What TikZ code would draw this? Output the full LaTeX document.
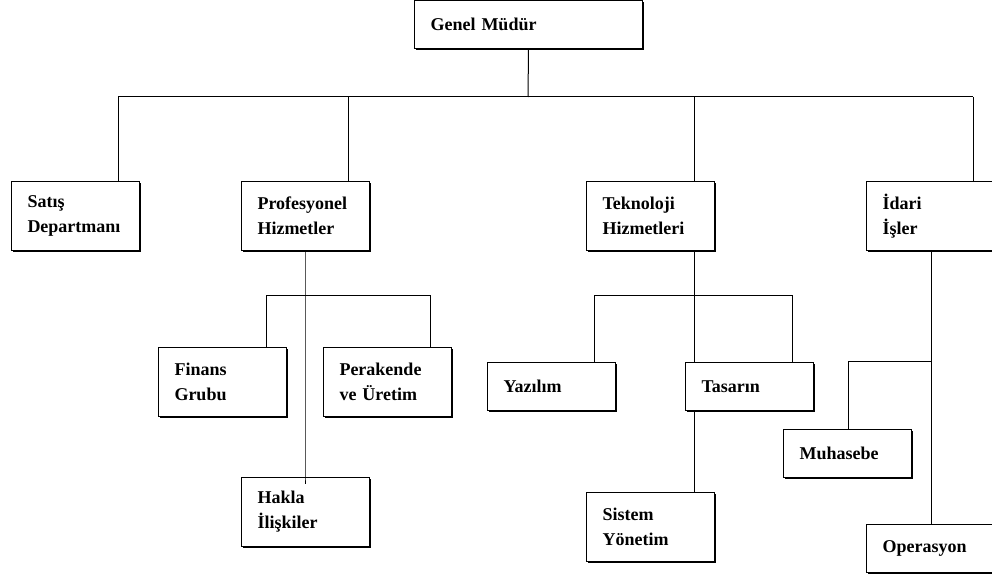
\documentclass[tikz,border=0pt]{standalone}
\usepackage{fontspec}
\setmainfont{Liberation Serif}
\usetikzlibrary{shadows}

\begin{document}
\begin{tikzpicture}[x=1pt, y=-1pt,
    orgbox/.style={draw, fill=white, line width=1pt, anchor=north west,
        inner xsep=16pt, inner ysep=0pt, align=left, text width=96pt,
        minimum height=69pt, font=\bfseries\fontsize{18}{25}\selectfont,
        drop shadow={shadow xshift=1.6pt, shadow yshift=-1.6pt, fill=black, opacity=1}},
    link/.style={line width=1pt}]
\useasboundingbox (0,0) rectangle (992,577);
% boxes
\node[orgbox, minimum height=48pt, text width=196pt] (gm) at (414,0) {Genel Müdür};
\foreach \nm/\x/\y/\lbl in {
    satis/11/181/{Satış\\Departmanı}, prof/241/181/{Profesyonel\\Hizmetler},
    tekno/586/181/{Teknoloji\\Hizmetleri}, idari/866/181/{İdari\\İşler},
    finans/158/347/{Finans\\Grubu}, perak/323/347/{Perakende\\ve Üretim},
    hakla/241/477/{Hakla\\İlişkiler}, sistem/586/492/{Sistem\\Yönetim}
}{
    \node[orgbox] (\nm) at (\x,\y) {\lbl};
}
\foreach \nm/\x/\y/\lbl in {
    yazilim/487/362/Yazılım, tasarin/685/362/Tasarın,
    muhasebe/783/429/Muhasebe, operasyon/866/524/Operasyon
}{
    \node[orgbox, minimum height=48pt] (\nm) at (\x,\y) {\lbl};
}
% top level
\coordinate (bus) at (528,97);
\draw[link] (gm.south) -- (bus);
\foreach \nm/\x in {satis/118, prof/348, tekno/694, idari/973}{
    \coordinate (d\nm) at (\x,97);
    \draw[link] (d\nm) -- (d\nm |- \nm.north);
}
\draw[link] (dsatis) -- (didari);
% profesyonel
\coordinate (pj) at (305,295);
\coordinate (fj) at (266,295);
\coordinate (rj) at (430,295);
\draw[link] (pj |- prof.south) -- (pj |- hakla.north) -- ++(0,7);
\draw[link] (fj |- finans.north) -- (fj) -- (rj) -- (rj |- perak.north);
% teknoloji
\coordinate (tj) at (694,295);
\coordinate (yj) at (594,295);
\coordinate (sj) at (792,295);
\draw[link] (tj |- tekno.south) -- (tj |- tasarin.north);
\draw[link] (tj |- tasarin.south) -- (tj |- sistem.north);
\draw[link] (yj |- yazilim.north) -- (yj) -- (sj) -- (sj |- tasarin.north);
% idari
\coordinate (ij) at (931,361);
\coordinate (mj) at (848,361);
\draw[link] (ij |- idari.south) -- (ij |- operasyon.north);
\draw[link] (ij) -- (mj) -- (mj |- muhasebe.north);
\end{tikzpicture}
\end{document}
